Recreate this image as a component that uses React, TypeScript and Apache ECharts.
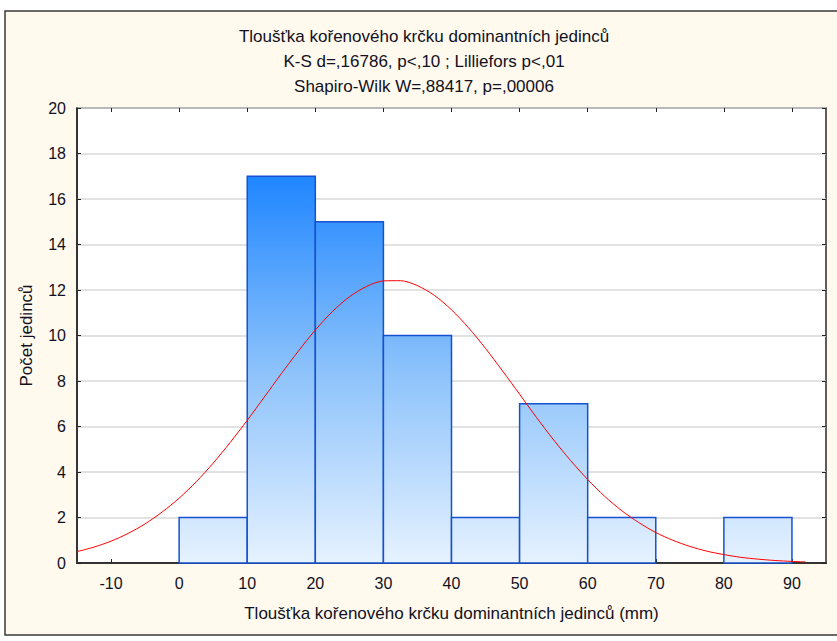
import React, { useEffect, useRef } from "react";
import * as echarts from "echarts";

// Histogram bins (mm) and counts
const binStarts = [0, 10, 20, 30, 40, 50, 60, 70, 80];
const binEnds = [10, 20, 30, 40, 50, 60, 70, 80, 90];
const binCounts = [2, 17, 15, 10, 2, 7, 2, 0, 2];

// Expected-normal curve
const curveX = [-15, -12.5, -10, -7.5, -5, -2.5, 0, 2.5, 5, 7.5, 10, 12.5, 15, 17.5, 20, 22.5, 25, 27.5, 30, 32.5, 35, 37.5, 40, 42.5, 45, 47.5, 50, 52.5, 55, 57.5, 60, 62.5, 65, 67.5, 70, 72.5, 75, 77.5, 80, 82.5, 85, 87.5, 90, 92];
const curveY = [0.5, 0.7, 0.96, 1.3, 1.72, 2.24, 2.85, 3.57, 4.39, 5.3, 6.27, 7.29, 8.32, 9.31, 10.24, 11.05, 11.7, 12.15, 12.4, 12.41, 12.19, 11.76, 11.13, 10.34, 9.43, 8.44, 7.42, 6.39, 5.41, 4.5, 3.67, 2.93, 2.3, 1.78, 1.34, 1.0, 0.73, 0.52, 0.37, 0.25, 0.17, 0.11, 0.07, 0.05];

const xTicks = [-10, 0, 10, 20, 30, 40, 50, 60, 70, 80, 90];

const titleLines = [
  "Tloušťka kořenového krčku dominantních jedinců",
  "K-S d=,16786, p<,10 ; Lilliefors p<,01",
  "Shapiro-Wilk W=,88417, p=,00006",
];
const xName = "Tloušťka kořenového krčku dominantních jedinců (mm)";
const yName = "Počet jedinců";

const FONT = "Liberation Sans, Arial, sans-serif";
const TEXT = "#111122";

export default function App() {
  const ref = useRef<HTMLDivElement>(null);
  useEffect(() => {
    if (!ref.current) return;
    const chart = echarts.init(ref.current, null, { renderer: "svg" });
    const maxCount = Math.max(...binCounts);
    const binData = binStarts.map((s, i) => [s, binEnds[i], binCounts[i]]);
    const option: any = {
      animation: false,
      backgroundColor: "#ffffff",
      textStyle: { fontFamily: FONT },
      graphic: [
        {
          type: "rect",
          z: -10,
          silent: true,
          shape: { x: 5, y: 11, width: 840, height: 624 },
          style: { fill: "#fff9ee", stroke: "#3a3a3a", lineWidth: 1.5 },
        },
        ...titleLines.map((t, i) => ({
          type: "text",
          x: 424,
          y: 36 + i * 25,
          style: {
            text: t,
            textAlign: "center",
            textVerticalAlign: "middle",
            fontSize: 17,
            fontFamily: FONT,
            fill: TEXT,
          },
        })),
      ],
      grid: {
        left: 77,
        right: 11,
        top: 108,
        bottom: 78,
        show: true,
        backgroundColor: "#ffffff",
        borderColor: "#2a2a2a",
        borderWidth: 1.5,
      },
      xAxis: [
        {
          type: "value",
          min: -15,
          max: 95,
          position: "bottom",
          name: xName,
          nameLocation: "middle",
          nameGap: 42,
          nameTextStyle: { fontSize: 17, color: TEXT, fontFamily: FONT },
          axisLine: { show: true, onZero: false, lineStyle: { color: "#333", width: 2 } },
          axisTick: { show: true, inside: true, length: 4, customValues: xTicks, lineStyle: { color: "#222" } },
          axisLabel: { show: true, customValues: xTicks, fontSize: 16, color: TEXT, margin: 12, fontFamily: FONT },
          splitLine: { show: false },
        },
        {
          type: "value",
          min: -15,
          max: 95,
          position: "top",
          axisLine: { show: false, onZero: false },
          axisTick: { show: true, inside: true, length: 4, customValues: xTicks, lineStyle: { color: "#222" } },
          axisLabel: { show: false },
          splitLine: { show: false },
        },
      ],
      yAxis: [
        {
          type: "value",
          min: 0,
          max: 20,
          interval: 2,
          position: "left",
          name: yName,
          nameLocation: "middle",
          nameGap: 42,
          nameTextStyle: { fontSize: 17, color: TEXT, fontFamily: FONT },
          axisLine: { show: true, onZero: false, lineStyle: { color: "#2a2a2a", width: 1.5 } },
          axisTick: { show: true, inside: true, length: 4, lineStyle: { color: "#222" } },
          axisLabel: { fontSize: 16, color: TEXT, margin: 11, fontFamily: FONT },
          splitLine: { show: true, lineStyle: { color: "#d9d9d9", width: 1.5 } },
        },
        {
          type: "value",
          min: 0,
          max: 20,
          interval: 2,
          position: "right",
          axisLine: { show: false, onZero: false },
          axisTick: { show: true, inside: true, length: 4, lineStyle: { color: "#222" } },
          axisLabel: { show: false },
          splitLine: { show: false },
        },
      ],
      series: [
        {
          type: "custom",
          xAxisIndex: 0,
          yAxisIndex: 0,
          encode: { x: [0, 1], y: 2 },
          data: binData,
          z: 2,
          renderItem: (params: any, api: any) => {
            const x0 = api.value(0);
            const x1 = api.value(1);
            const v = api.value(2);
            if (!v) return null;
            const p0 = api.coord([x0, v]);
            const p1 = api.coord([x1, 0]);
            const top = api.coord([0, maxCount])[1];
            const bottom = api.coord([0, 0])[1];
            const grad = new echarts.graphic.LinearGradient(
              0, top, 0, bottom,
              [
                { offset: 0, color: "#1f86ff" },
                { offset: 0.5, color: "#8cc2fb" },
                { offset: 1, color: "#e6f2ff" },
              ],
              true
            );
            return {
              type: "rect",
              shape: { x: p0[0], y: p0[1], width: p1[0] - p0[0], height: p1[1] - p0[1] },
              style: { fill: grad, stroke: "#1652cf", lineWidth: 1.5 },
            };
          },
        },
        {
          type: "line",
          xAxisIndex: 0,
          yAxisIndex: 0,
          data: curveX.map((x, i) => [x, curveY[i]]),
          smooth: 0.3,
          showSymbol: false,
          symbol: "none",
          z: 5,
          lineStyle: { color: "#ff0000", width: 1 },
        },
      ],
    };
    chart.setOption(option);
    return () => chart.dispose();
  }, []);
  return (
    <div
      ref={ref}
      style={{ position: "fixed", left: 0, top: 0, width: 837, height: 641 }}
    />
  );
}
